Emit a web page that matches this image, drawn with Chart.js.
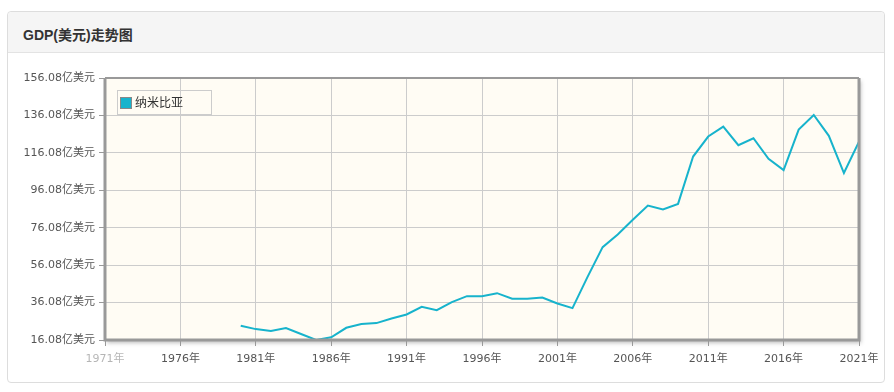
<!DOCTYPE html>
<html>
<head>
<meta charset="utf-8">
<script src="https://cdn.jsdelivr.net/npm/chart.js@4"></script>
<style>
  html, body { margin:0; padding:0; background:#fff; }
  body { width:894px; height:392px; position:relative; overflow:hidden; font-family:"DejaVu Sans","Noto Sans CJK SC",sans-serif; }
  .card { position:absolute; left:7px; top:11px; width:876px; height:370px; border:1px solid #ddd; border-radius:4px; }
  .card .hd { height:40px; background:#f5f5f5; border-bottom:1px solid #e3e3e3; border-radius:4px 4px 0 0; }
  .card .hd span { position:absolute; left:15px; top:12px; font-size:14px; font-weight:bold; color:#333; font-family:"Liberation Sans","Noto Sans CJK SC",sans-serif; }
  #wrap { position:absolute; left:0; top:0; width:894px; height:392px; }
  #c { display:block; }
  .legend { position:absolute; left:117px; top:90px; width:95px; height:25px; border:1px solid #ccc; box-sizing:border-box; }
  .legend i { position:absolute; left:2px; top:6px; width:12px; height:12px; background:#17b3cc; border:1px solid #888; box-sizing:border-box; }
  .legend span { position:absolute; left:17px; top:4px; font-size:12px; color:#333; font-family:"Noto Sans CJK SC",sans-serif; line-height:14px; }
</style>
</head>
<body>
<div class="card"><div class="hd"><span>GDP(美元)走势图</span></div></div>
<div id="wrap"><canvas id="c" width="894" height="392"></canvas></div>
<div class="legend"><i></i><span>纳米比亚</span></div>
<script>
// 纳米比亚 GDP（亿美元），按年份
const years = [1980,1981,1982,1983,1984,1985,1986,1987,1988,1989,1990,
  1991,1992,1993,1994,1995,1996,1997,1998,1999,2000,
  2001,2002,2003,2004,2005,2006,2007,2008,2009,2010,
  2011,2012,2013,2014,2015,2016,2017,2018,2019,2020,2021];
const gdp = [23.7,21.9,20.9,22.5,19.3,16.1,17.5,22.6,24.6,25.1,27.6,
  29.7,33.8,32.0,36.3,39.5,39.5,41.1,38.1,38.1,38.8,
  35.6,33.1,49.8,65.7,72.5,80.3,87.9,85.8,88.8,114.1,
  124.8,130.1,120.2,123.9,112.9,106.9,128.5,136.3,125.2,105.3,122.1];
const xTicks = [1971,1976,1981,1986,1991,1996,2001,2006,2011,2016,2021];
const yTicks = [16.08,36.08,56.08,76.08,96.08,116.08,136.08,156.08];

const plotBg = {
  id:'plotBg',
  beforeDraw(chart){
    const {ctx, chartArea:a} = chart;
    ctx.save();
    ctx.shadowColor = 'rgba(0,0,0,0.25)';
    ctx.shadowBlur = 4;
    ctx.shadowOffsetX = 2;
    ctx.shadowOffsetY = 3;
    ctx.fillStyle = '#fffcf4';
    ctx.fillRect(a.left, a.top, a.right - a.left, a.bottom - a.top);
    ctx.restore();
  },
  afterDraw(chart){
    const {ctx, chartArea:a} = chart;
    ctx.save();
    ctx.strokeStyle = '#999';
    ctx.lineWidth = 3;
    ctx.beginPath();
    ctx.moveTo(a.left, a.top);
    ctx.lineTo(a.left, a.bottom);
    ctx.lineTo(a.right, a.bottom);
    ctx.lineTo(a.right, a.top);
    ctx.stroke();
    ctx.lineWidth = 2;
    ctx.beginPath();
    ctx.moveTo(a.left, a.top);
    ctx.lineTo(a.right, a.top);
    ctx.stroke();
    ctx.restore();
  }
};

const tickFont = { family:'"DejaVu Sans","Noto Sans CJK SC",sans-serif', size:11 };

new Chart(document.getElementById('c'), {
  type:'line',
  data:{
    datasets:[{
      label:'纳米比亚',
      data: years.map((y,i)=>({x:y, y:gdp[i]})),
      borderColor:'#17b3cc',
      backgroundColor:'#17b3cc',
      borderWidth:2,
      pointRadius:0,
      tension:0,
      fill:false
    }]
  },
  options:{
    responsive:false,
    animation:false,
    devicePixelRatio:1,
    layout:{ padding:{ top:78, right:35, bottom:0, left:0 } },
    plugins:{ legend:{ display:false }, tooltip:{ enabled:false } },
    scales:{
      x:{
        type:'linear', min:1971, max:2021,
        afterBuildTicks: s => { s.ticks = xTicks.map(v=>({value:v})); },
        afterFit: s => { s.height = 52; },
        grid:{ color:'#ccc', tickColor:'#999', tickLength:6 },
        border:{ display:false },
        ticks:{ font:tickFont, padding:7, maxRotation:0, autoSkip:false,
          color: c => c.tick && c.tick.value === 1971 ? 'rgba(90,90,90,0.45)' : '#555',
          callback: v => v + '年' }
      },
      y:{
        type:'linear', min:16.08, max:156.08,
        afterBuildTicks: s => { s.ticks = yTicks.map(v=>({value:v})); },
        afterFit: s => { s.width = 105; },
        grid:{ color:'#ccc', tickColor:'#999', tickLength:6 },
        border:{ display:false },
        ticks:{ font:tickFont, padding:4, color:'#555',
          callback: v => v.toFixed(2) + '亿美元' }
      }
    }
  },
  plugins:[plotBg]
});
</script>
</body>
</html>
